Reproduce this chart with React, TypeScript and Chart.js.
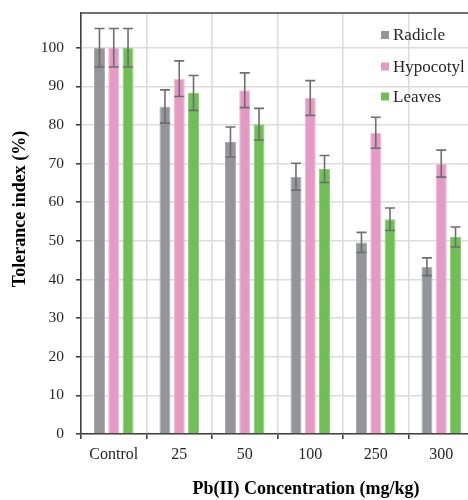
import React, { useEffect, useRef } from "react";
import { Chart, registerables } from "chart.js";

Chart.register(...registerables);

const categories = ["Control", "25", "50", "100", "250", "300"];
const radicle = [100, 84.8, 75.6, 66.6, 49.6, 43.3];
const radicleErr = [5, 4.3, 3.9, 3.5, 2.6, 2.3];
const hypocotyl = [100, 92.0, 89.0, 87.0, 78.0, 70.0];
const hypocotylErr = [5, 4.6, 4.5, 4.5, 4.0, 3.5];
const leaves = [100, 88.3, 80.2, 68.6, 55.6, 51.0];
const leavesErr = [5, 4.5, 4.1, 3.5, 2.9, 2.6];
const seriesNames = ["Radicle", "Hypocotyl", "Leaves"];
const yTitle = "Tolerance index (%)";
const xTitle = "Pb(II) Concentration (mg/kg)";

const SERIF = '"Liberation Serif", "Times New Roman", serif';
const colors = ["#939598", "#e59ac4", "#6fbf56"];
const borders = ["#a9aaad", "#f0b5d6", "#8ccf78"];
const errs = [radicleErr, hypocotylErr, leavesErr];

const extrasPlugin = {
  id: "extras",
  afterDatasetsDraw(chart: any) {
    const ctx = chart.ctx;
    const y = chart.scales.y;
    ctx.save();
    ctx.strokeStyle = "#6d6e71";
    ctx.lineWidth = 1.6;
    chart.data.datasets.forEach((ds: any, di: number) => {
      const meta = chart.getDatasetMeta(di);
      meta.data.forEach((bar: any, i: number) => {
        const v = ds.data[i];
        const e = errs[di][i];
        const yt = y.getPixelForValue(v + e);
        const yb = y.getPixelForValue(v - e);
        const x = bar.x;
        ctx.beginPath();
        ctx.moveTo(x, yt);
        ctx.lineTo(x, yb);
        ctx.moveTo(x - 5, yt);
        ctx.lineTo(x + 5, yt);
        ctx.moveTo(x - 5, yb);
        ctx.lineTo(x + 5, yb);
        ctx.stroke();
      });
    });
    ctx.restore();
  },
  afterDraw(chart: any) {
    const ctx = chart.ctx;
    const area = chart.chartArea;
    ctx.save();
    // top border
    ctx.strokeStyle = "#404040";
    ctx.lineWidth = 1.5;
    ctx.beginPath();
    ctx.moveTo(area.left - 0.75, area.top);
    ctx.lineTo(area.right, area.top);
    ctx.stroke();
    // legend
    const ly = [35, 66.5, 96.5];
    ctx.font = `17px ${SERIF}`;
    ctx.textBaseline = "middle";
    ctx.textAlign = "left";
    seriesNames.forEach((n, i) => {
      ctx.fillStyle = colors[i];
      ctx.fillRect(381, ly[i] - 4, 8, 8);
      ctx.fillStyle = "#262626";
      ctx.fillText(n, 393, ly[i] + 1);
    });
    // axis titles
    ctx.font = `bold 18px ${SERIF}`;
    ctx.fillStyle = "#000000";
    ctx.textAlign = "center";
    ctx.textBaseline = "middle";
    ctx.fillText(xTitle, 306, 489);
    ctx.translate(20, 209);
    ctx.rotate(-Math.PI / 2);
    ctx.fillText(yTitle, 0, 0);
    ctx.restore();
  },
};

export default function App() {
  const ref = useRef<HTMLCanvasElement>(null);
  useEffect(() => {
    if (!ref.current) return;
    const mk = (label: string, data: number[], i: number) => ({
      label,
      data,
      backgroundColor: colors[i],
      borderColor: borders[i],
      borderWidth: 1,
      categoryPercentage: 0.654,
      barPercentage: 0.77,
    });
    const chart = new Chart(ref.current, {
      type: "bar",
      data: {
        labels: categories,
        datasets: [
          mk(seriesNames[0], radicle, 0),
          mk(seriesNames[1], hypocotyl, 1),
          mk(seriesNames[2], leaves, 2),
        ],
      },
      options: {
        responsive: false,
        animation: false,
        devicePixelRatio: 1,
        layout: { padding: { top: 13, right: 6, left: 0, bottom: 0 } },
        plugins: {
          legend: { display: false },
          tooltip: { enabled: false },
          title: { display: false },
        },
        scales: {
          x: {
            grid: {
              offset: true,
              color: "#dcdcdc",
              lineWidth: 1.6,
              tickColor: "#404040",
              tickLength: 5,
              drawOnChartArea: true,
            },
            border: { color: "#404040", width: 1.6 },
            ticks: {
              font: { family: SERIF, size: 16 },
              color: "#262626",
              padding: 6,
              maxRotation: 0,
            },
            afterFit: (s: any) => {
              s.height = 66;
              s.paddingLeft = 0;
              s.paddingRight = 0;
            },
          } as any,
          y: {
            min: 0,
            max: 109,
            grid: {
              color: "#dcdcdc",
              lineWidth: 1.6,
              tickColor: "#404040",
              tickLength: 5,
            },
            border: { color: "#404040", width: 1.6 },
            ticks: {
              stepSize: 10,
              includeBounds: false,
              font: { family: SERIF, size: 15.5 },
              color: "#262626",
              padding: 12,
            },
            afterFit: (s: any) => {
              s.width = 81;
              s.paddingTop = 0;
              s.paddingBottom = 0;
            },
          } as any,
        },
      },
      plugins: [extrasPlugin],
    });
    return () => chart.destroy();
  }, []);
  return (
    <div
      style={{
        position: "fixed",
        left: 0,
        top: 0,
        width: 468,
        height: 500,
        overflow: "hidden",
        background: "#ffffff",
      }}
    >
      <canvas ref={ref} width={480} height={500} style={{ display: "block" }} />
    </div>
  );
}
